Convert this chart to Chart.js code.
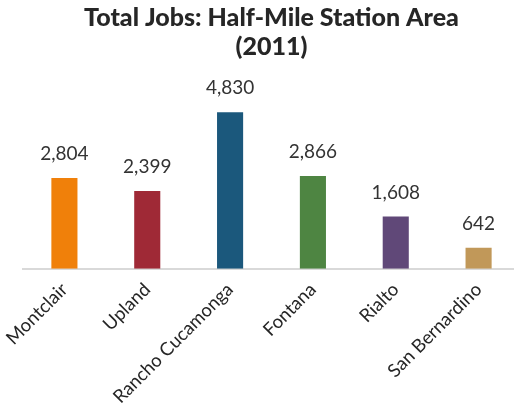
<!DOCTYPE html>
<html><head><meta charset="utf-8">
<script src="https://cdn.jsdelivr.net/npm/chart.js@4/dist/chart.umd.min.js"></script>
<style>html,body{margin:0;padding:0;background:#fff;overflow:hidden}#wrap{width:514px;height:410px;overflow:hidden}</style>
</head><body><div id="wrap"><canvas id="c" width="520" height="410"></canvas></div>
<script>
const categories = ["Montclair","Upland","Rancho Cucamonga","Fontana","Rialto","San Bernardino"];
const jobs = [2804, 2399, 4830, 2866, 1608, 642];
const barColors = ["#F0800A","#9F2936","#1B587C","#4E8542","#604878","#C19859"];
const titleLines = ["Total Jobs: Half-Mile Station Area","(2011)"];
const FONT = "Lato, 'DejaVu Sans', sans-serif";

const valueLabels = {
  id:'valueLabels',
  afterDatasetsDraw(chart){
    const ctx = chart.ctx;
    const meta = chart.getDatasetMeta(0);
    ctx.save();
    ctx.font = "19px " + FONT;
    ctx.fillStyle = "#333333";
    ctx.textAlign = "center";
    ctx.textBaseline = "alphabetic";
    meta.data.forEach((bar,i)=>{
      ctx.fillText(jobs[i].toLocaleString('en-US'), bar.x, bar.y - 18);
    });
    ctx.restore();
  }
};

new Chart(document.getElementById('c'), {
  type:'bar',
  data:{labels:categories, datasets:[{data:jobs, backgroundColor:barColors, barPercentage:0.63, categoryPercentage:0.5}]},
  options:{
    responsive:false, animation:false,
    layout:{padding:{left:23, right:0, top:0, bottom:0}},
    plugins:{
      legend:{display:false}, tooltip:{enabled:false},
      title:{display:true, text:titleLines, color:"#262626", font:{family:FONT, size:25, weight:900, lineHeight:1.15}, padding:{top:4,bottom:13}}
    },
    scales:{
      x:{grid:{display:false}, border:{color:"#D9D9D9", width:2},
         ticks:{color:"#262626", font:{family:FONT, size:18.5}, minRotation:45, maxRotation:45, padding:2}},
      y:{display:false, min:0, max:6000}
    }
  },
  plugins:[valueLabels]
});
</script></body></html>
